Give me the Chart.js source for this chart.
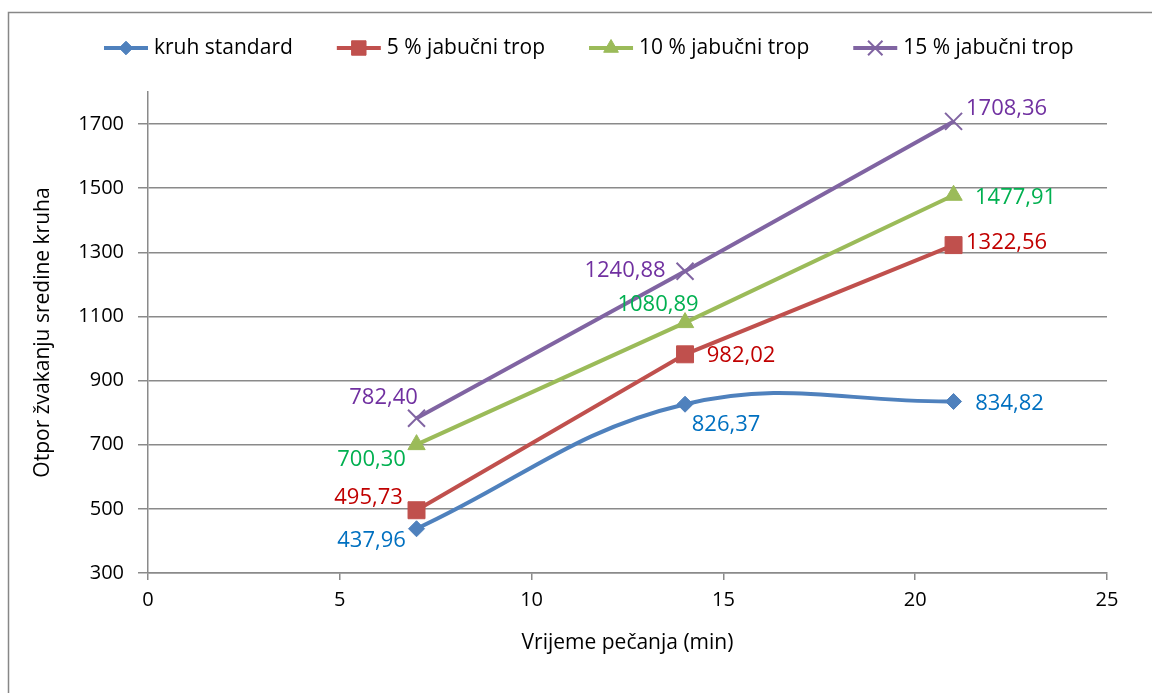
<!DOCTYPE html>
<html>
<head>
<meta charset="utf-8">
<script src="https://cdn.jsdelivr.net/npm/chart.js@4/dist/chart.umd.min.js"></script>
<style>
  body { margin: 0; background: #fff; }
  canvas { display: block; }
</style>
</head>
<body>
<canvas id="chart" width="1152" height="693"></canvas>
<script>
let bakingTimes = [7, 14, 21]
let seriesNames = ["kruh standard", "5 % jabučni trop", "10 % jabučni trop", "15 % jabučni trop"]
let standard = [437.96, 826.37, 834.82]
let trop5 = [495.73, 982.02, 1322.56]
let trop10 = [700.30, 1080.89, 1477.91]
let trop15 = [782.40, 1240.88, 1708.36]
let xTicks = [0, 5, 10, 15, 20, 25]
let yTicks = [300, 500, 700, 900, 1100, 1300, 1500, 1700]

let font = "'Open Sans', sans-serif"
let gridColor = "#8a8a8a"

function points(values) {
    return values.map((v, i) => ({x: bakingTimes[i], y: v}))
}

// line colour, label colour, marker, marker radius, where the value label sits
let looks = [
    {line: "#4F81BD", text: "#0070C0", style: "rectRot", r: 8, tension: 0.4,
     offsets: [[-45, 12], [41, 21], [56, 2]]},
    {line: "#C0504D", text: "#C00000", style: "rect", r: 12, tension: 0,
     offsets: [[-48, -13], [56, 1], [53, -2]]},
    {line: "#9BBB59", text: "#00B050", style: "triangle", r: 10, tension: 0,
     offsets: [[-45, 15], [-27, -18], [62, 2]]},
    {line: "#8064A2", text: "#7030A0", style: "crossRot", r: 12, tension: 0,
     offsets: [[-33, -21], [-60, -1], [53, -13]]}
]

let allValues = [standard, trop5, trop10, trop15]

let datasets = allValues.map((values, i) => ({
    label: seriesNames[i],
    data: points(values),
    borderColor: looks[i].line,
    backgroundColor: looks[i].line,
    borderWidth: 4,
    tension: looks[i].tension,
    pointStyle: looks[i].style,
    pointRadius: looks[i].r,
    pointHoverRadius: looks[i].r,
    pointBorderWidth: i === 3 ? 2 : 1,
    pointBorderColor: looks[i].line,
    pointBackgroundColor: looks[i].line,
    fill: false
}))

let frame = {
    id: "frame",
    beforeDraw(chart) {
        let ctx = chart.ctx
        ctx.save()
        ctx.fillStyle = "#fff"
        ctx.fillRect(0, 0, chart.width, chart.height)
        ctx.strokeStyle = "#878787"
        ctx.lineWidth = 1.5
        ctx.strokeRect(8.5, 12.5, 1200, 800)
        ctx.restore()
    }
}

let valueLabels = {
    id: "valueLabels",
    afterDatasetsDraw(chart) {
        let ctx = chart.ctx
        ctx.save()
        ctx.font = "22px " + font
        ctx.textAlign = "center"
        ctx.textBaseline = "middle"
        chart.data.datasets.forEach((ds, i) => {
            let meta = chart.getDatasetMeta(i)
            meta.data.forEach((pt, j) => {
                let [dx, dy] = looks[i].offsets[j]
                ctx.fillStyle = looks[i].text
                ctx.fillText(allValues[i][j].toFixed(2).replace(".", ","), pt.x + dx, pt.y + dy)
            })
        })
        ctx.restore()
    }
}

let topLegend = {
    id: "topLegend",
    afterDraw(chart) {
        let ctx = chart.ctx
        ctx.save()
        ctx.font = "21px " + font
        ctx.textBaseline = "middle"
        let x = 104
        let y = 48
        chart.data.datasets.forEach((ds, i) => {
            ctx.strokeStyle = looks[i].line
            ctx.lineWidth = 4
            ctx.beginPath()
            ctx.moveTo(x, y)
            ctx.lineTo(x + 44, y)
            ctx.stroke()
            ctx.fillStyle = looks[i].line
            ctx.lineWidth = i === 3 ? 2 : 1
            Chart.helpers.drawPoint(ctx, {pointStyle: looks[i].style, radius: looks[i].r * 0.85, borderWidth: ctx.lineWidth}, x + 22, y)
            ctx.fillStyle = "#000"
            ctx.fillText(ds.label, x + 50, y)
            x += 50 + ctx.measureText(ds.label).width + 44
        })
        ctx.restore()
    }
}

window.onload = () => {
    let ctx = document.querySelector("#chart").getContext("2d")

    new Chart(ctx, {
        type: "line",
        data: { datasets: datasets },
        plugins: [frame, valueLabels, topLegend],
        options: {
            responsive: false,
            maintainAspectRatio: false,
            animation: false,
            devicePixelRatio: 1,
            layout: { padding: { top: 92, right: 45, left: 0, bottom: 0 } },
            plugins: {
                legend: { display: false },
                tooltip: { enabled: false }
            },
            scales: {
                x: {
                    type: "linear",
                    min: 0,
                    max: 25,
                    afterBuildTicks: axis => { axis.ticks = xTicks.map(v => ({value: v})) },
                    afterFit: axis => { axis.height = 120 },
                    grid: {
                        drawOnChartArea: false,
                        drawTicks: true,
                        tickLength: 7,
                        color: gridColor,
                        lineWidth: 1.5
                    },
                    border: { color: gridColor, width: 1.5 },
                    ticks: {
                        color: "#000",
                        font: { family: font, size: 20 },
                        padding: 8,
                        maxRotation: 0,
                        callback: v => String(v)
                    },
                    title: {
                        display: true,
                        text: "Vrijeme pečanja (min)",
                        color: "#000",
                        font: { family: font, size: 21 },
                        padding: { top: 0, bottom: 37 }
                    }
                },
                y: {
                    min: 300,
                    max: 1800,
                    afterBuildTicks: axis => { axis.ticks = yTicks.map(v => ({value: v})) },
                    afterFit: axis => { axis.width = 148 },
                    grid: {
                        drawTicks: true,
                        tickLength: 10,
                        color: gridColor,
                        lineWidth: 1.5
                    },
                    border: { color: gridColor, width: 1.5 },
                    ticks: {
                        color: "#000",
                        font: { family: font, size: 20 },
                        padding: 14,
                        callback: v => String(v)
                    },
                    title: {
                        display: true,
                        text: "Otpor žvakanju sredine kruha",
                        color: "#000",
                        font: { family: font, size: 21 },
                        padding: { top: 30, bottom: 0 }
                    }
                }
            }
        }
    })
}
</script>
</body>
</html>
